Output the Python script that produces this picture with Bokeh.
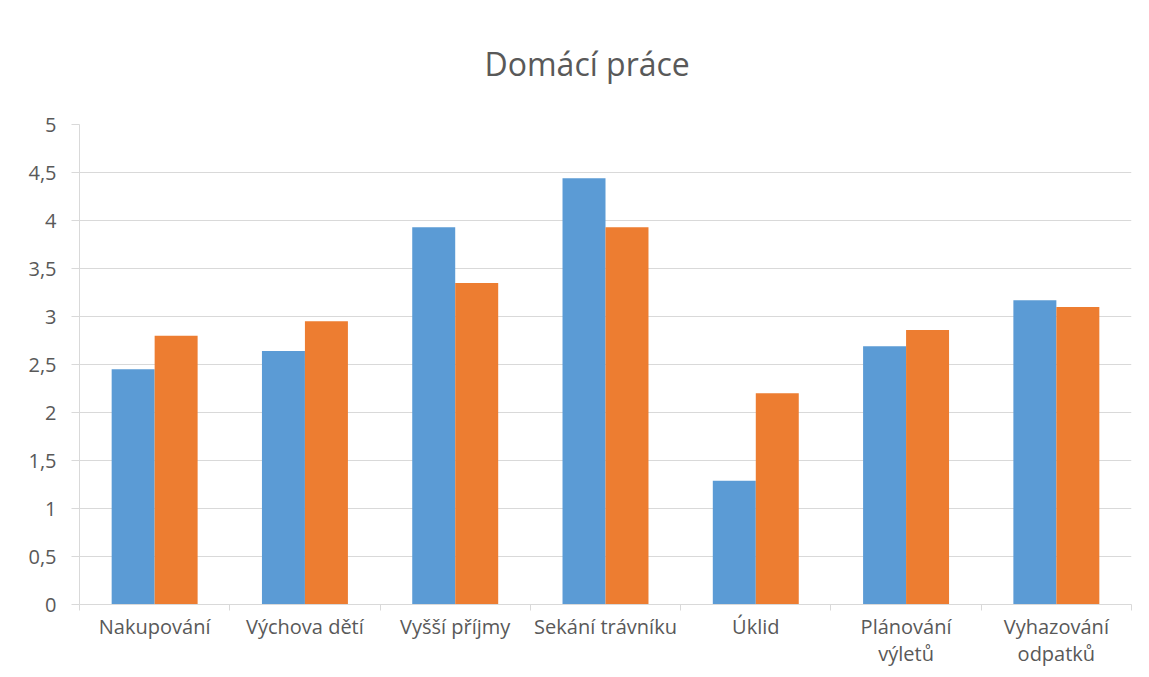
from bokeh.plotting import figure
from bokeh.models import (ColumnDataSource, Range1d, LinearAxis, FixedTicker,
                          CustomJSTickFormatter, Title)
from bokeh.transform import dodge
from bokeh.embed import file_html
from bokeh.resources import INLINE

categories = ["Nakupování", "Výchova dětí", "Vyšší příjmy", "Sekání trávníku",
              "Úklid", "Plánování\nvýletů", "Vyhazování\nodpatků"]
series_a = [2.45, 2.64, 3.93, 4.44, 1.29, 2.69, 3.17]
series_b = [2.80, 2.95, 3.35, 3.93, 2.20, 2.86, 3.10]
y_ticks = [0, 0.5, 1, 1.5, 2, 2.5, 3, 3.5, 4, 4.5, 5]
title_text = "Domácí práce"

n = len(categories)
centers = [i + 0.5 for i in range(n)]
bounds = list(range(n + 1))
src = ColumnDataSource(dict(x=centers, a=series_a, b=series_b))

FONT = "Open Sans"
GRAY = "#d9d9d9"
TXT = "#595959"

p = figure(width=1133, height=669, output_backend="svg", toolbar_location=None,
           x_range=Range1d(0, n), y_range=Range1d(0, 5),
           x_axis_location=None, y_axis_location=None,
           min_border_left=79, min_border_right=2, min_border_bottom=60,
           min_border_top=124)
p.outline_line_color = None
p.background_fill_color = "white"
p.border_fill_color = "white"

p.title = Title(text=title_text, text_font=FONT, text_font_size="32px",
                text_color=TXT, text_font_style="normal", align="left",
                vertical_align="top", offset=405, standoff=76)

bw = 0.286
p.vbar(x=dodge("x", -bw / 2, range=p.x_range), top="a", width=bw, bottom=0,
       source=src, fill_color="#5b9bd5", line_color=None)
p.vbar(x=dodge("x", bw / 2, range=p.x_range), top="b", width=bw, bottom=0,
       source=src, fill_color="#ed7d31", line_color=None)

# y axis
yax = LinearAxis(ticker=FixedTicker(ticks=y_ticks))
yax.formatter = CustomJSTickFormatter(code="return String(tick).replace('.', ',');")
yax.axis_line_color = GRAY
yax.major_tick_line_color = GRAY
yax.major_tick_out = 8
yax.major_tick_in = 0
yax.minor_tick_line_color = None
yax.major_label_text_font = FONT
yax.major_label_text_font_size = "20px"
yax.major_label_text_color = TXT
yax.major_label_standoff = 15
p.add_layout(yax, "left")

# x axis: labels at centres, tick marks at category boundaries
xax = LinearAxis(ticker=FixedTicker(ticks=centers, minor_ticks=bounds))
xax.major_label_overrides = {c: lab for c, lab in zip(centers, categories)}
xax.axis_line_color = GRAY
xax.major_tick_line_color = None
xax.major_tick_out = 0
xax.major_tick_in = 0
xax.minor_tick_line_color = GRAY
xax.minor_tick_out = 6
xax.minor_tick_in = 0
xax.major_label_text_font = FONT
xax.major_label_text_font_size = "20px"
xax.major_label_text_line_height = 1.0
xax.major_label_text_color = TXT
xax.major_label_standoff = 2
p.add_layout(xax, "below")

p.ygrid.grid_line_color = GRAY
p.ygrid.ticker = FixedTicker(ticks=y_ticks)
p.xgrid.grid_line_color = None

open("out.html", "w").write(file_html(p, INLINE))
